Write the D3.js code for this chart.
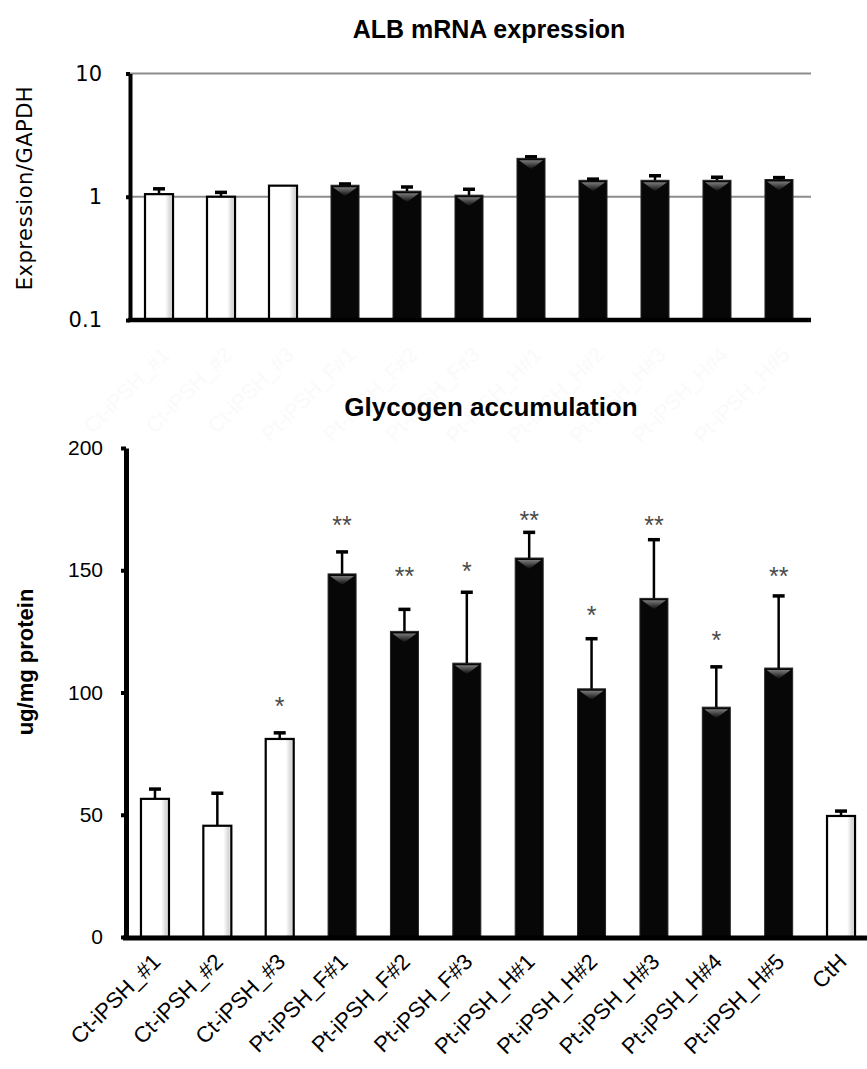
<!DOCTYPE html>
<html>
<head>
<meta charset="utf-8">
<script src="https://cdn.jsdelivr.net/npm/d3@7"></script>
<style>
  body { margin: 0; background: #fff; }
  svg { display: block; }
</style>
</head>
<body>
<svg id="chart" width="867" height="1069"></svg>
<script>
// ---- data ----
const categories = ['Ct-iPSH_#1', 'Ct-iPSH_#2', 'Ct-iPSH_#3', 'Pt-iPSH_F#1', 'Pt-iPSH_F#2', 'Pt-iPSH_F#3',
  'Pt-iPSH_H#1', 'Pt-iPSH_H#2', 'Pt-iPSH_H#3', 'Pt-iPSH_H#4', 'Pt-iPSH_H#5', 'CtH']
const controlGroup = ['Ct-iPSH_#1', 'Ct-iPSH_#2', 'Ct-iPSH_#3', 'CtH']

// ALB mRNA (no CtH bar in this panel)
const albCategories = categories.slice(0, 11)
const albMean = [1.05, 1.0, 1.23, 1.24, 1.11, 1.03, 2.05, 1.36, 1.36, 1.36, 1.38]
const albErr = [0.11, 0.085, 0, 0.03, 0.09, 0.12, 0.06, 0.03, 0.12, 0.08, 0.05]
const albTicks = [0.1, 1, 10]
const albTickLabels = ['0.1', '1', '10']

// glycogen
const glyMean = [56.5, 45.5, 81, 148.5, 125, 112, 155, 101.5, 138.5, 94, 110, 49.5]
const glyErr = [4, 13.3, 2.5, 9, 9, 29, 10.5, 20.5, 24, 16.5, 29.5, 2]
const glyStars = ['', '', '*', '**', '**', '*', '**', '*', '**', '*', '**', '']
const glyStarAt = [0, 0, 97, 171, 150, 152, 173, 134, 171, 124, 150, 0]
const glyTicks = [0, 50, 100, 150, 200]

const svg = d3.select('#chart')
svg.append('rect').attr('width', 867).attr('height', 1069).attr('fill', '#fff')

// gradients for the bar shading
const defs = svg.append('defs')
const whiteFill = defs.append('linearGradient').attr('id', 'whiteFill')
  .attr('x1', 0).attr('x2', 1).attr('y1', 0).attr('y2', 0)
whiteFill.append('stop').attr('offset', 0).attr('stop-color', '#ffffff')
whiteFill.append('stop').attr('offset', 0.72).attr('stop-color', '#ffffff')
whiteFill.append('stop').attr('offset', 0.9).attr('stop-color', '#d6d6d6')
whiteFill.append('stop').attr('offset', 1).attr('stop-color', '#eeeeee')
const chevron = defs.append('linearGradient').attr('id', 'chevron')
  .attr('x1', 0).attr('x2', 0).attr('y1', 0).attr('y2', 1)
chevron.append('stop').attr('offset', 0).attr('stop-color', '#7a7a7a')
chevron.append('stop').attr('offset', 1).attr('stop-color', '#0a0a0a')

const isControl = c => controlGroup.includes(c)

const drawBars = (g, cats, means, errs, x, y, base) => {
  const bw = x.bandwidth()
  cats.forEach((c, i) => {
    const x0 = x(c)
    const yv = y(means[i])
    g.append('rect')
      .attr('x', x0)
      .attr('y', yv)
      .attr('width', bw)
      .attr('height', base - yv)
      .attr('fill', isControl(c) ? 'url(#whiteFill)' : '#070707')
      .attr('stroke', isControl(c) ? '#000' : '#262626')
      .attr('stroke-width', isControl(c) ? 2.2 : 1)
    if (!isControl(c)) {
      // little shaded chevron at the top of the dark bars
      g.append('path')
        .attr('d', `M${x0 + 2},${yv + 2}L${x0 + bw - 2},${yv + 2}L${x0 + bw / 2},${yv + 11}Z`)
        .attr('fill', 'url(#chevron)')
    }
    if (errs[i] > 0) {
      const cx = x0 + bw / 2
      const ye = y(means[i] + errs[i])
      g.append('line')
        .attr('x1', cx).attr('x2', cx)
        .attr('y1', yv).attr('y2', ye)
        .attr('stroke', '#000').attr('stroke-width', 2.5)
      g.append('line')
        .attr('x1', cx - 6).attr('x2', cx + 6)
        .attr('y1', ye).attr('y2', ye)
        .attr('stroke', '#000').attr('stroke-width', 3.5)
    }
  })
}

// ================= ALB mRNA expression =================
const topLeft = 130
const topRight = 811
const topBase = 320
const xTop = d3.scaleBand()
  .domain(albCategories)
  .range([topLeft, 808])
  .paddingInner(0.548)
  .paddingOuter(0.242)
const yTop = d3.scaleLog()
  .domain([0.1, 10])
  .range([topBase, 73.5])

svg.append('text')
  .attr('x', 489)
  .attr('y', 38)
  .attr('text-anchor', 'middle')
  .style('font-family', '"Liberation Sans", Arial, sans-serif')
  .style('font-weight', 'bold')
  .style('font-size', '25px')
  .text('ALB mRNA expression')

// faint ghost labels between the panels
albCategories.forEach(c => {
  svg.append('text')
    .attr('transform', `translate(${xTop(c) + xTop.bandwidth() / 2 + 12}, 356) rotate(-45)`)
    .attr('text-anchor', 'end')
    .style('font-family', '"Liberation Sans", Arial, sans-serif')
    .style('font-size', '21px')
    .attr('fill', '#fafafa')
    .text(c)
})

const gTop = svg.append('g')

// gridlines at 1 and 10
gTop.selectAll('line.grid')
  .data([1, 10])
  .enter()
  .append('line')
  .attr('class', 'grid')
  .attr('x1', topLeft)
  .attr('x2', topRight)
  .attr('y1', d => yTop(d))
  .attr('y2', d => yTop(d))
  .attr('stroke', '#8c8c8c')
  .attr('stroke-width', 2)

drawBars(gTop, albCategories, albMean, albErr, xTop, yTop, topBase)

const yAxisTop = d3.axisLeft()
  .scale(yTop)
  .tickValues(albTicks)
  .tickFormat((d, i) => albTickLabels[i])
  .tickSizeInner(4)
  .tickSizeOuter(0)
  .tickPadding(24)
const yAxisTopG = gTop.append('g')
  .attr('transform', `translate(${topLeft}, 0)`)
  .call(yAxisTop)
yAxisTopG.select('.domain').attr('stroke', '#000').attr('stroke-width', 4)
yAxisTopG.selectAll('.tick line').attr('stroke', '#000').attr('stroke-width', 4)
yAxisTopG.selectAll('.tick text')
  .style('font-family', '"DejaVu Sans", sans-serif')
  .style('font-size', '21px')
  .attr('fill', '#000')

gTop.append('line')
  .attr('x1', topLeft - 2).attr('x2', topRight)
  .attr('y1', topBase).attr('y2', topBase)
  .attr('stroke', '#000').attr('stroke-width', 4.5)

svg.append('text')
  .attr('transform', `translate(25, 188) rotate(-90)`)
  .attr('text-anchor', 'middle')
  .attr('dominant-baseline', 'central')
  .style('font-family', '"DejaVu Sans", sans-serif')
  .style('font-size', '21px')
  .style('letter-spacing', '0.5px')
  .text('Expression/GAPDH')

// ================= Glycogen accumulation =================
const botLeft = 126
const botBase = 937
const xBot = d3.scaleBand()
  .domain(categories)
  .range([botLeft, 870])
  .paddingInner(0.551)
  .paddingOuter(0.24)
const yBot = d3.scaleLinear()
  .domain([0, 200])
  .range([botBase, 448])

svg.append('text')
  .attr('x', 491)
  .attr('y', 416)
  .attr('text-anchor', 'middle')
  .style('font-family', '"Liberation Sans", Arial, sans-serif')
  .style('font-weight', 'bold')
  .style('font-size', '26px')
  .text('Glycogen accumulation')

const gBot = svg.append('g')
drawBars(gBot, categories, glyMean, glyErr, xBot, yBot, botBase)

// significance stars
categories.forEach((c, i) => {
  if (!glyStars[i]) return
  gBot.append('text')
    .attr('x', xBot(c) + xBot.bandwidth() / 2)
    .attr('y', yBot(glyStarAt[i]))
    .attr('dy', '0.6em')
    .attr('text-anchor', 'middle')
    .style('font-family', '"Liberation Sans", Arial, sans-serif')
    .style('font-size', '25px')
    .attr('fill', '#4a4a4a')
    .text(glyStars[i])
})

const yAxisBot = d3.axisLeft()
  .scale(yBot)
  .tickValues(glyTicks)
  .tickSizeInner(5)
  .tickSizeOuter(0)
  .tickPadding(18)
const yAxisBotG = gBot.append('g')
  .attr('transform', `translate(${botLeft}, 0)`)
  .call(yAxisBot)
yAxisBotG.select('.domain').attr('stroke', '#000').attr('stroke-width', 5)
yAxisBotG.selectAll('.tick line').attr('stroke', '#000').attr('stroke-width', 4)
yAxisBotG.selectAll('.tick text')
  .style('font-family', '"Liberation Sans", Arial, sans-serif')
  .style('font-size', '21px')
  .attr('fill', '#000')

gBot.append('line')
  .attr('x1', botLeft - 3).attr('x2', 867)
  .attr('y1', botBase + 1).attr('y2', botBase + 1)
  .attr('stroke', '#000').attr('stroke-width', 5)

// rotated category labels
categories.forEach(c => {
  gBot.append('text')
    .attr('transform', `translate(${xBot(c) + xBot.bandwidth() / 2 + 7}, 963) rotate(-45)`)
    .attr('text-anchor', 'end')
    .style('font-family', '"Liberation Sans", Arial, sans-serif')
    .style('font-size', '22px')
    .attr('fill', '#000')
    .text(c)
})

svg.append('text')
  .attr('transform', `translate(25, 662) rotate(-90)`)
  .attr('text-anchor', 'middle')
  .attr('dominant-baseline', 'central')
  .style('font-family', '"Liberation Sans", Arial, sans-serif')
  .style('font-weight', 'bold')
  .style('font-size', '22px')
  .text('ug/mg protein')
</script>
</body>
</html>
